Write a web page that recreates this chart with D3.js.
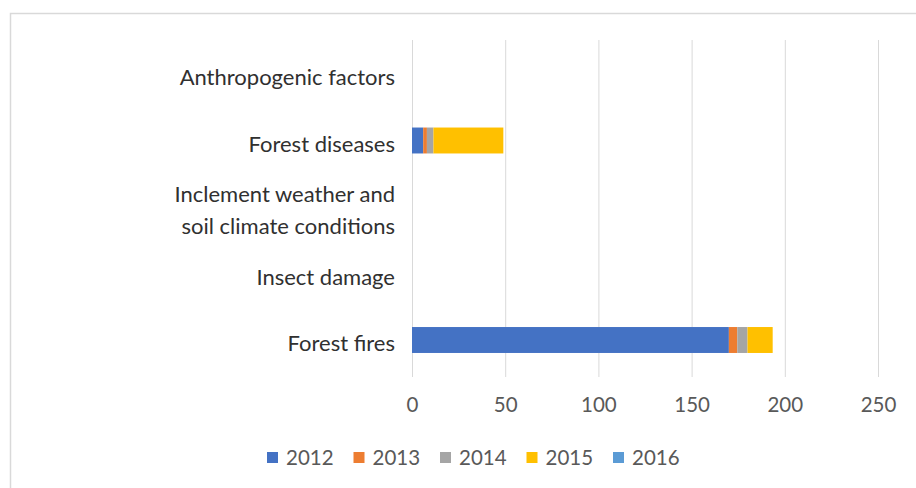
<!DOCTYPE html>
<html><head><meta charset="utf-8">
<script src="https://cdn.jsdelivr.net/npm/d3@7"></script>
<style>html,body{margin:0;padding:0;background:#fff;}svg{display:block;}</style>
</head><body>
<svg id="chart" width="916" height="488"></svg>
<script>
const categories = ["Forest fires", "Insect damage", "Inclement weather and soil climate conditions", "Forest diseases", "Anthropogenic factors"];
const categoryLines = [["Forest fires"], ["Insect damage"], ["Inclement weather and", "soil climate conditions"], ["Forest diseases"], ["Anthropogenic factors"]];
const years = ["2012", "2013", "2014", "2015", "2016"];
const v2012 = [170, 0, 0, 6, 0];
const v2013 = [4.5, 0, 0, 2, 0];
const v2014 = [5.5, 0, 0, 3.5, 0];
const v2015 = [13.5, 0, 0, 37.5, 0];
const v2016 = [0, 0, 0, 0, 0];
const xTicks = [0, 50, 100, 150, 200, 250];
const colors = ["#4472C4", "#ED7D31", "#A5A5A5", "#FFC000", "#5B9BD5"];

const seriesValues = [v2012, v2013, v2014, v2015, v2016];
const rows = categories.map((c, i) => {
  const r = {cat: c};
  years.forEach((y, j) => r[y] = seriesValues[j][i]);
  return r;
});

const svg = d3.select("#chart");
const font = "Lato, 'Open Sans', sans-serif";

svg.append("rect").attr("x", 10.5).attr("y", 13.5).attr("width", 930).attr("height", 500)
  .attr("fill", "#fff").attr("stroke", "#d9d9d9").attr("stroke-width", 1.5);

const x = d3.scaleLinear().domain([0, 250]).range([412, 878]);
const y = d3.scaleBand().domain(categories.slice().reverse()).range([40.75, 373.25]).paddingInner(0.61).paddingOuter(0.305);

// gridlines
svg.append("g").selectAll("line").data(xTicks).join("line")
  .attr("x1", d => x(d) + 0.5).attr("x2", d => x(d) + 0.5)
  .attr("y1", 40).attr("y2", 377)
  .attr("stroke", "#d9d9d9").attr("stroke-width", 1);

// x axis labels
const xAxis = d3.axisBottom(x).tickValues(xTicks).tickSize(0).tickPadding(0);
const gx = svg.append("g").attr("transform", "translate(0,405)").call(xAxis);
gx.select(".domain").remove();
gx.selectAll("text").attr("font-family", font).attr("font-size", 20.5).attr("fill", "#595959").attr("y", 0).attr("dy", "0.36em");

// stacked bars
const stack = d3.stack().keys(years)(rows);
svg.append("g").selectAll("g").data(stack).join("g")
  .attr("fill", (d, i) => colors[i])
  .selectAll("rect").data(d => d).join("rect")
  .attr("x", d => x(d[0])).attr("width", d => Math.max(0, x(d[1]) - x(d[0])))
  .attr("y", d => y(d.data.cat)).attr("height", y.bandwidth());

// category labels
const lab = svg.append("g").selectAll("text").data(categories).join("text")
  .attr("font-family", font).attr("font-size", 22).attr("fill", "#303030")
  .attr("text-anchor", "end")
  .attr("x", 395)
  .attr("y", d => y(d) + y.bandwidth() / 2 + 3);
lab.each(function(d, i) {
  const lines = categoryLines[i];
  const t = d3.select(this);
  const lh = 32;
  lines.forEach((l, k) => {
    t.append("tspan").attr("x", 395)
      .attr("dy", k === 0 ? ((-(lines.length - 1) * lh / 2) + 8) : lh)
      .text(l);
  });
});

// legend
const lg = svg.append("g").selectAll("g").data(years).join("g")
  .attr("transform", (d, i) => `translate(${267 + i * 86.5},457.5)`);
lg.append("rect").attr("x", 0).attr("y", -5.5).attr("width", 11).attr("height", 11).attr("fill", (d, i) => colors[i]);
lg.append("text").attr("x", 19).attr("y", 0).attr("dy", "0.36em")
  .attr("font-family", font).attr("font-size", 20.5).attr("fill", "#595959").text(d => d);
</script>
</body></html>
